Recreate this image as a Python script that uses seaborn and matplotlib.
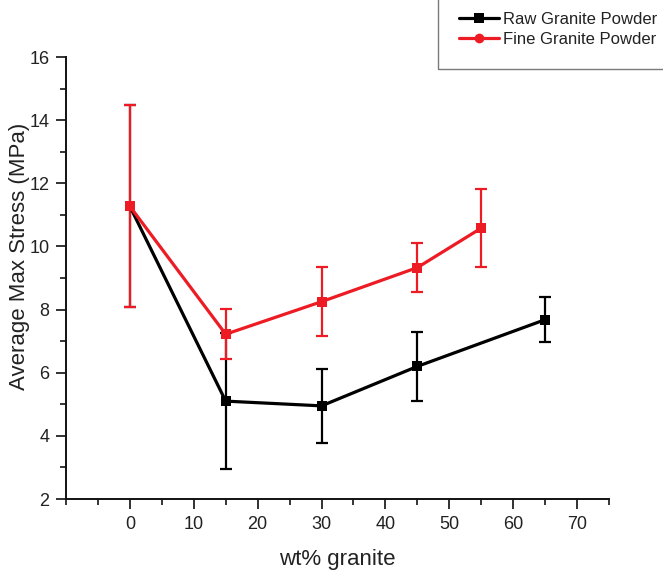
import matplotlib
matplotlib.use("Agg")
import matplotlib.pyplot as plt
from matplotlib.lines import Line2D
from matplotlib.patches import Rectangle
from matplotlib.ticker import MultipleLocator
import numpy as np
import pandas as pd
import seaborn as sns

# wt% granite content
raw_x = [0, 15, 30, 45, 65]
fine_x = [0, 15, 30, 45, 55]

# average max stress (MPa) and standard deviation
raw_stress = [11.27, 5.10, 4.95, 6.20, 7.68]
raw_err = [3.20, 2.15, 1.17, 1.10, 0.72]
fine_stress = [11.27, 7.22, 8.25, 9.33, 10.58]
fine_err = [3.20, 0.80, 1.10, 0.78, 1.24]

series_names = ["Raw Granite Powder", "Fine Granite Powder"]
series_colors = ["#000000", "#ED1C24"]

raw_df = pd.DataFrame({"wt": raw_x, "stress": raw_stress, "err": raw_err})
fine_df = pd.DataFrame({"wt": fine_x, "stress": fine_stress, "err": fine_err})

sns.set_style("ticks")
plt.rcParams["font.family"] = ["Liberation Sans", "DejaVu Sans"]

fig = plt.figure(figsize=(6.63, 5.70), dpi=100)
ax = fig.add_axes([66 / 663, 1 - 499 / 570, (609 - 66) / 663, (499 - 57) / 570])

for df, color in zip([raw_df, fine_df], series_colors):
    ax.errorbar(df["wt"], df["stress"], yerr=df["err"], fmt="none",
                ecolor=color, elinewidth=1.6, capsize=4, capthick=1.6, zorder=2)
    sns.lineplot(data=df, x="wt", y="stress", ax=ax, color=color,
                 linewidth=2.3, marker="s", markersize=6.5,
                 markeredgewidth=0, zorder=3, legend=False)

ax.set_xlim(-10, 75)
ax.set_ylim(2, 16)
ax.xaxis.set_major_locator(MultipleLocator(10))
ax.xaxis.set_minor_locator(MultipleLocator(5))
ax.yaxis.set_major_locator(MultipleLocator(2))
ax.yaxis.set_minor_locator(MultipleLocator(1))
ax.set_xticks([0, 10, 20, 30, 40, 50, 60, 70])
ax.tick_params(axis="both", which="major", direction="out", length=7,
               width=1.3, labelsize=13, colors="#222222", pad=5)
ax.tick_params(axis="both", which="minor", direction="out", length=4, width=1.3)
for side in ["top", "right"]:
    ax.spines[side].set_visible(False)
for side in ["left", "bottom"]:
    ax.spines[side].set_linewidth(1.4)
    ax.spines[side].set_color("#111111")

ax.set_xlabel("wt% granite", fontsize=16, color="#222222", labelpad=12)
ax.set_ylabel("Average Max Stress (MPa)", fontsize=16, color="#222222")
ax.yaxis.set_label_coords(-0.067, 0.55)

# legend box anchored at the top-right corner of the figure
fig.patches.append(Rectangle((438 / 663, 1 - 69 / 570), 0.5, 0.2,
                             transform=fig.transFigure, fill=False,
                             edgecolor="#7a7a7a", linewidth=1.0))
handles = [
    Line2D([], [], color=series_colors[0], linewidth=2.3, marker="s",
           markersize=6.5, markeredgewidth=0),
    Line2D([], [], color=series_colors[1], linewidth=2.3, marker="o",
           markersize=7, markeredgewidth=0),
]
fig.legend(handles, series_names, loc="upper left",
           bbox_to_anchor=(447 / 663, 1.0), frameon=False,
           fontsize=12, handlelength=2.4, handletextpad=0.25,
           labelspacing=0.3, borderpad=0.2, labelcolor="#222222")

fig.savefig("out.png", dpi=100)
